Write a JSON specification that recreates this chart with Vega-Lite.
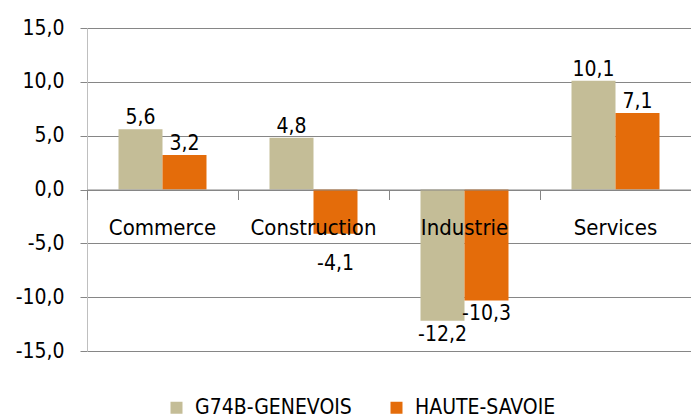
{
  "$schema": "https://vega.github.io/schema/vega-lite/v6.json",
  "width": 604,
  "height": 323,
  "autosize": "none",
  "padding": {"left": 87, "top": 28, "right": 0, "bottom": 65},
  "config": {
    "font": "DejaVu Sans Condensed",
    "locale": {
      "number": {"decimal": ",", "thousands": " ", "grouping": [3], "currency": ["", " €"], "minus": "-"}
    },
    "view": {"stroke": null},
    "axis": {"labelFont": "DejaVu Sans Condensed", "labelColor": "#000000"},
    "legend": {"labelFont": "DejaVu Sans Condensed", "labelColor": "#000000"}
  },
  "data": {
    "values": [
      {"secteur": "Commerce", "zone": "G74B-GENEVOIS", "value": 5.6},
      {"secteur": "Commerce", "zone": "HAUTE-SAVOIE", "value": 3.2},
      {"secteur": "Construction", "zone": "G74B-GENEVOIS", "value": 4.8},
      {"secteur": "Construction", "zone": "HAUTE-SAVOIE", "value": -4.1},
      {"secteur": "Industrie", "zone": "G74B-GENEVOIS", "value": -12.2},
      {"secteur": "Industrie", "zone": "HAUTE-SAVOIE", "value": -10.3},
      {"secteur": "Services", "zone": "G74B-GENEVOIS", "value": 10.1},
      {"secteur": "Services", "zone": "HAUTE-SAVOIE", "value": 7.1}
    ]
  },
  "encoding": {
    "x": {
      "field": "secteur",
      "type": "nominal",
      "sort": ["Commerce", "Construction", "Industrie", "Services"],
      "scale": {"paddingInner": 0, "paddingOuter": 0},
      "axis": {
        "title": null,
        "orient": "bottom",
        "offset": -161.5,
        "zindex": 1,
        "labelAngle": 0,
        "labelFontSize": 22,
        "labelPadding": 18,
        "tickSize": 10,
        "tickColor": "#868686",
        "domainColor": "#868686",
        "bandPosition": 0,
        "grid": false
      }
    },
    "xOffset": {
      "field": "zone",
      "type": "nominal",
      "scale": {"paddingInner": 0, "paddingOuter": 0.716}
    },
    "y": {
      "field": "value",
      "type": "quantitative",
      "scale": {"domain": [-15, 15], "nice": false, "zero": false},
      "axis": {
        "title": null,
        "values": [-15, -10, -5, 0, 5, 10, 15],
        "format": ".1f",
        "labelFontSize": 21,
        "labelPadding": 16,
        "tickSize": 7,
        "tickColor": "#868686",
        "domainColor": "#bfbfbf",
        "grid": true,
        "gridColor": "#868686",
        "gridOpacity": 1
      }
    }
  },
  "layer": [
    {
      "mark": {"type": "bar"},
      "encoding": {
        "color": {
          "field": "zone",
          "type": "nominal",
          "scale": {"domain": ["G74B-GENEVOIS", "HAUTE-SAVOIE"], "range": ["#C4BD97", "#E46C0A"]},
          "legend": {
            "title": null,
            "orient": "none",
            "legendX": 79,
            "legendY": 369,
            "direction": "horizontal",
            "symbolType": "square",
            "symbolSize": 144,
            "symbolStrokeWidth": 0,
            "labelFontSize": 21,
            "labelOffset": 8,
            "columnPadding": 34
          }
        }
      }
    },
    {
      "transform": [{"filter": "datum.value >= 0"}],
      "mark": {"type": "text", "baseline": "alphabetic", "dy": -5, "fontSize": 21, "color": "#000000"},
      "encoding": {"text": {"field": "value", "type": "quantitative", "format": ".1f"}}
    },
    {
      "transform": [{"filter": "datum.value < 0 && datum.secteur != 'Construction'"}],
      "mark": {"type": "text", "baseline": "top", "dy": 3, "fontSize": 21, "color": "#000000"},
      "encoding": {"text": {"field": "value", "type": "quantitative", "format": ".1f"}}
    },
    {
      "transform": [{"filter": "datum.value < 0 && datum.secteur == 'Construction'"}],
      "mark": {"type": "text", "baseline": "top", "dy": 19, "fontSize": 21, "color": "#000000"},
      "encoding": {"text": {"field": "value", "type": "quantitative", "format": ".1f"}}
    }
  ]
}
